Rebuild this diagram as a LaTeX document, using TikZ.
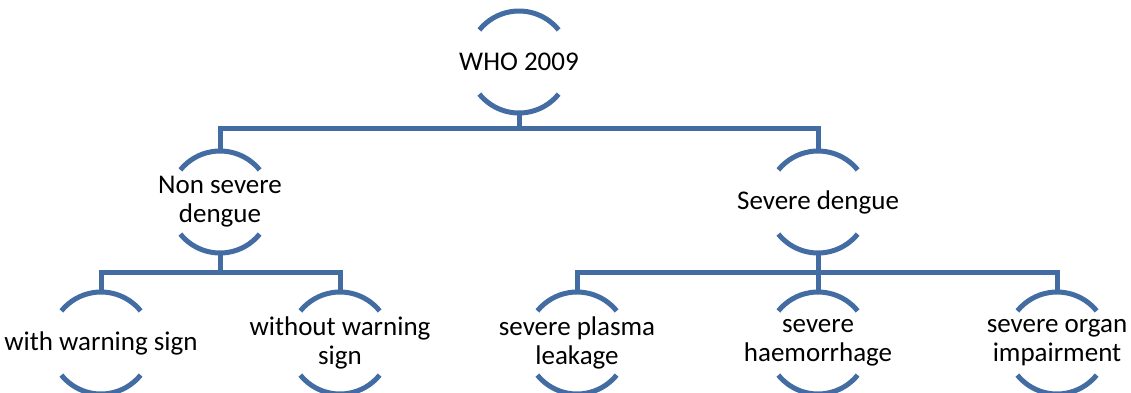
\documentclass[tikz,border=0pt]{standalone}
\usepackage{fontspec}
\setmainfont{Carlito}
\definecolor{linkblue}{RGB}{66,108,162}
\newcommand\ringarcs[1]{%
  \draw[conn] ([shift={(39:51)}]#1.center) arc[start angle=39,end angle=141,radius=51];
  \draw[conn] ([shift={(219:51)}]#1.center) arc[start angle=219,end angle=321,radius=51];}
\begin{document}
\begin{tikzpicture}[x=1pt,y=1pt,
  conn/.style={draw=linkblue,line width=5pt},
  ring/.style={circle,minimum size=102pt,inner sep=0pt},
  lbl/.style={align=center,font=\fontsize{27}{29}\selectfont,inner sep=0pt}]
\useasboundingbox[fill=white] (0,0) rectangle (1131,-392);
% rings
\node[ring] (who) at (519,-62) {};
\node[ring] (nsd) at (220,-202) {};
\node[ring] (sd) at (818,-202) {};
\node[ring] (ws) at (101,-343) {};
\node[ring] (wos) at (340,-343) {};
\node[ring] (spl) at (577,-343) {};
\node[ring] (sh) at (818,-343) {};
\node[ring] (soi) at (1057,-343) {};
% labels
\node[lbl] at (who) {WHO 2009};
\node[lbl] at (nsd) {Non severe\\dengue};
\node[lbl] at (sd) {Severe dengue};
\node[lbl] at (ws) {with warning sign};
\node[lbl] at (wos) {without warning\\sign};
\node[lbl] at (spl) {severe plasma\\leakage};
\node[lbl] at (sh) {severe\\haemorrhage};
\node[lbl] at (soi) {severe organ\\impairment};
% arcs
\ringarcs{who}\ringarcs{nsd}\ringarcs{sd}\ringarcs{ws}\ringarcs{wos}\ringarcs{spl}\ringarcs{sh}\ringarcs{soi}
% buses
\coordinate (busA) at (0,-128);
\coordinate (busB) at (0,-272);
\draw[conn] (who.south) -- (who.south |- busA);
\draw[conn] (nsd.north) -- (nsd.north |- busA) -| (sd.north);
\draw[conn] (nsd.south) -- (nsd.south |- busB);
\draw[conn] (ws.north) -- (ws.north |- busB) -| (wos.north);
\draw[conn] (sd.south) -- (sd.south |- busB);
\draw[conn] (spl.north) -- (spl.north |- busB) -| (soi.north);
\draw[conn] (sh.north) -- (sh.north |- busB);
\end{tikzpicture}
\end{document}
